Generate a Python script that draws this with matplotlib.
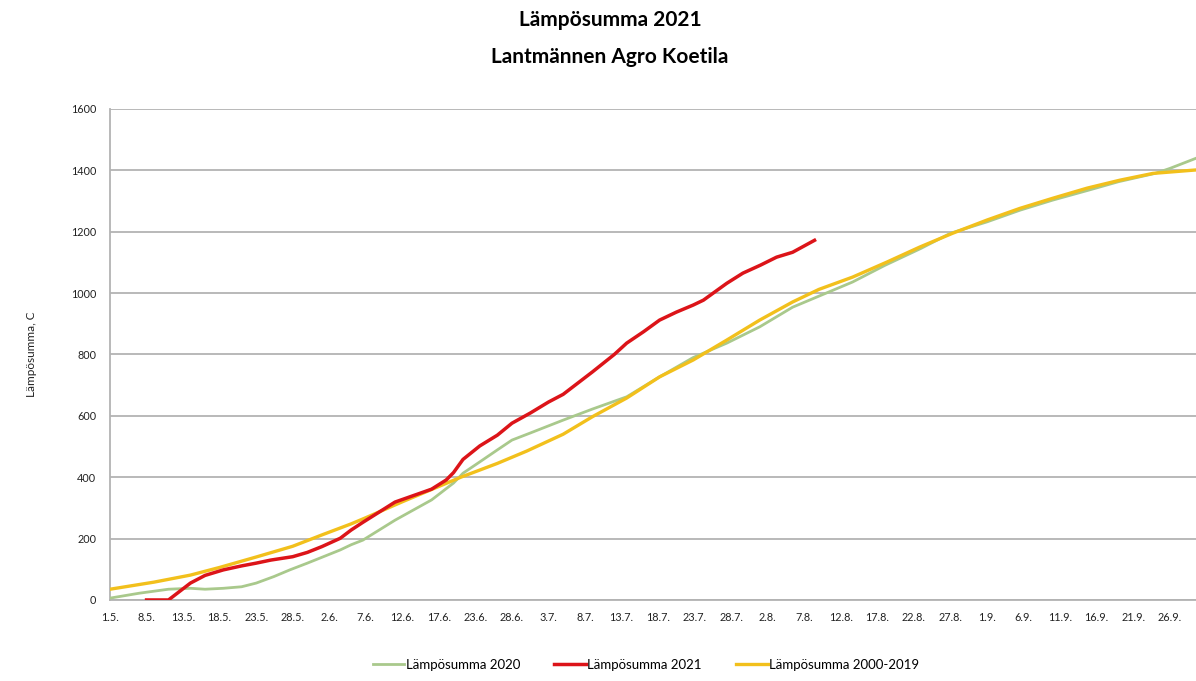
import matplotlib.pyplot as plt

# -----------------------
# Data (category index -> value)
# -----------------------
DATE_LABELS = ["1.5.", "8.5.", "13.5.", "18.5.", "23.5.", "28.5.",
               "2.6.", "7.6.", "12.6.", "17.6.", "23.6.", "28.6.",
               "3.7.", "8.7.", "13.7.", "18.7.", "23.7.", "28.7.",
               "2.8.", "7.8.", "12.8.", "17.8.", "22.8.", "27.8.",
               "1.9.", "6.9.", "11.9.", "16.9.", "21.9.", "26.9."]

idx_2020 = [0, 4, 8, 11, 13, 15.5, 18, 20, 22.4, 24.6, 27, 29.2, 31.5, 33, 34.6,
            39, 44, 47, 48.3, 50.6, 53, 55, 57.5, 62, 66, 70.7, 75.2, 79.8,
            84.4, 88.9, 93.4, 97, 101.6, 106, 111, 115, 120, 124.5, 129, 134,
            138, 143, 145, 149]
val_2020 = [6, 22, 35, 38, 35, 38, 43, 55, 76, 98, 120, 141, 163, 180, 195,
            260, 326, 381, 413, 450, 489, 521, 544, 586, 622, 662, 727, 790,
            837, 890, 954, 990, 1036, 1090, 1146, 1195, 1232, 1270, 1303, 1336,
            1363, 1390, 1406, 1443]

idx_2021 = [5, 8, 11, 13, 15.5, 18, 20, 22, 25, 27, 29, 31.5, 33, 34.6, 39, 44,
            46, 47, 48.3, 50.6, 53, 55, 57.5, 60, 62, 66, 69, 70.7, 73, 75.2,
            77.5, 79.8, 81.2, 84.4, 86.6, 89, 91.2, 93.4, 96.4]
val_2021 = [0, 0, 55, 80, 98, 111, 120, 130, 141, 155, 174, 201, 228, 253, 319,
            361, 391, 415, 458, 502, 537, 576, 609, 645, 670, 743, 800, 837, 874,
            912, 938, 961, 977, 1032, 1065, 1091, 1117, 1133, 1172]

idx_avg = [0, 6, 11, 15, 20, 25, 29, 33, 35, 40, 45, 48, 53, 57, 62, 66, 70.7,
           75.2, 79.8, 84.4, 88.9, 93.4, 97, 101.6, 106.3, 110.8, 115.3, 120,
           124.5, 129, 133.7, 138.2, 142.7, 149]
val_avg = [35, 58, 81, 106, 140, 175, 212, 248, 268, 320, 370, 400, 445, 485,
           540, 597, 658, 727, 782, 847, 912, 971, 1012, 1052, 1101, 1150, 1195,
           1238, 1276, 1309, 1342, 1368, 1390, 1402]

GREEN = "#a9c98c"
RED = "#dc1419"
GOLD = "#f2c01c"
GRID = "#b3b3b3"

plt.rcParams['font.family'] = ['Lato', 'DejaVu Sans']

fig = plt.figure(figsize=(11.96, 6.81), dpi=100)
ax = fig.add_axes([0.092, 0.119, 0.908, 0.721])

l20, = ax.plot(idx_2020, val_2020, color=GREEN, lw=2.0, zorder=3, label="Lämpösumma 2020")
lav, = ax.plot(idx_avg, val_avg, color=GOLD, lw=2.4, zorder=4, label="Lämpösumma 2000-2019")
l21, = ax.plot(idx_2021, val_2021, color=RED, lw=2.5, zorder=5, label="Lämpösumma 2021")

ax.set_xlim(0, 148.6)
ax.set_ylim(0, 1600)
ax.set_yticks(range(0, 1601, 200))
ax.set_xticks(range(0, 5 * len(DATE_LABELS), 5))
ax.set_xticklabels(DATE_LABELS)
ax.tick_params(axis="both", length=0, labelsize=7.8, colors="#222222")
ax.tick_params(axis="x", pad=9)
ax.tick_params(axis="y", pad=10)

ax.grid(axis="y", color=GRID, lw=1.3)
ax.set_axisbelow(True)
for s in ["top", "right"]:
    ax.spines[s].set_visible(False)
for s in ["left", "bottom"]:
    ax.spines[s].set_color(GRID)
    ax.spines[s].set_linewidth(1.3)

ax.set_ylabel("Lämpösumma, C", fontsize=8.5, color="#222222", labelpad=24)

fig.text(0.51, 0.971, "Lämpösumma 2021", ha="center", va="center",
         fontsize=15, fontweight="bold")
fig.text(0.51, 0.916, "Lantmännen Agro Koetila", ha="center", va="center",
         fontsize=15, fontweight="bold")

fig.legend(handles=[l20, l21, lav], loc="center", bbox_to_anchor=(0.54, 0.024),
           ncol=3, frameon=False, fontsize=9.5, handlelength=2.4, handletextpad=0.1,
           columnspacing=2.6)

fig.savefig("out.png", dpi=100)
